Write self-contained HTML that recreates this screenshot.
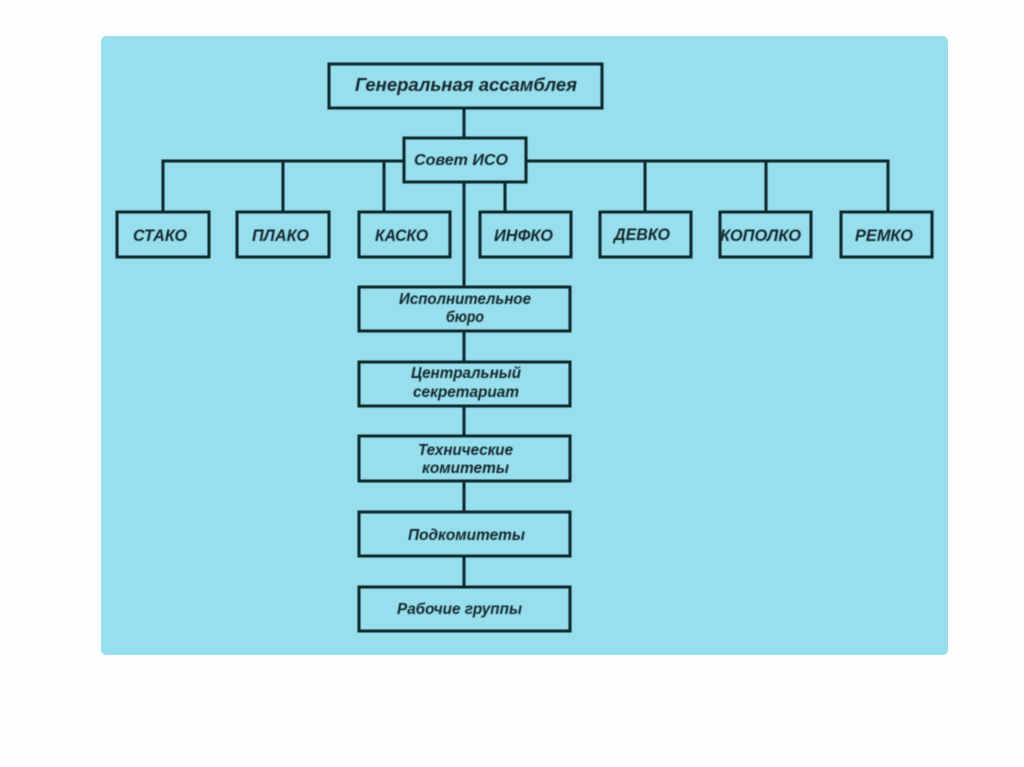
<!DOCTYPE html>
<html lang="ru">
<head>
<meta charset="utf-8">
<title>Структура ИСО</title>
<style>
html,body{margin:0;padding:0;background:#fefefe;width:1024px;height:767px;overflow:hidden}
svg{display:block}
text{font-family:"Liberation Sans",sans-serif;font-weight:bold;font-style:italic;font-size:16px;fill:#16282e;text-anchor:start}
</style>
</head>
<body>
<svg width="1024" height="767" viewBox="0 0 1024 767" xmlns="http://www.w3.org/2000/svg">
<defs>
<filter id="b" x="-5%" y="-5%" width="110%" height="110%"><feGaussianBlur stdDeviation="0.45"/></filter>
<filter id="t" x="-5%" y="-5%" width="110%" height="110%"><feGaussianBlur stdDeviation="0.4"/></filter>
</defs>
<rect x="101" y="36" width="847" height="619" rx="5" fill="#97dfec"/>
<g filter="url(#b)" fill="none" stroke="#10262c" stroke-width="3">
<path d="M464 108V138"/>
<path d="M404 161H163V212M283 161V212M384 161V212"/>
<path d="M526 161H888V212M645 161V212M766 161V212"/>
<path d="M505 182V212"/>
<path d="M464 182V287M464 331V362M464 406V436M464 481V512M464 556V587"/>
<rect x="329" y="64" width="273" height="44"/>
<rect x="404" y="138" width="122" height="44"/>
<rect x="117" y="212" width="92" height="45"/>
<rect x="237" y="212" width="92" height="45"/>
<rect x="359" y="212" width="91" height="45"/>
<rect x="480" y="212" width="91" height="45"/>
<rect x="600" y="212" width="91" height="45"/>
<rect x="720" y="212" width="91" height="45"/>
<rect x="841" y="212" width="91" height="45"/>
<rect x="359" y="287" width="211" height="44"/>
<rect x="359" y="362" width="211" height="44"/>
<rect x="359" y="436" width="211" height="45"/>
<rect x="359" y="512" width="211" height="44"/>
<rect x="359" y="587" width="211" height="44"/>
</g>
<g filter="url(#t)">
<text x="355" y="91" textLength="222" lengthAdjust="spacingAndGlyphs" style="font-size:18px">Генеральная ассамблея</text>
<text x="414" y="165" textLength="94" lengthAdjust="spacingAndGlyphs">Совет ИСО</text>
<text x="133" y="241" textLength="54" lengthAdjust="spacingAndGlyphs" style="font-size:17px">СТАКО</text>
<text x="252" y="241" textLength="57" lengthAdjust="spacingAndGlyphs" style="font-size:17px">ПЛАКО</text>
<text x="375" y="241" textLength="53" lengthAdjust="spacingAndGlyphs" style="font-size:17px">КАСКО</text>
<text x="494" y="241" textLength="59" lengthAdjust="spacingAndGlyphs" style="font-size:17px">ИНФКО</text>
<text x="614" y="240" textLength="56" lengthAdjust="spacingAndGlyphs" style="font-size:17px">ДЕВКО</text>
<text x="720" y="241" textLength="81" lengthAdjust="spacingAndGlyphs" style="font-size:17px">КОПОЛКО</text>
<text x="855" y="241" textLength="58" lengthAdjust="spacingAndGlyphs" style="font-size:17px">РЕМКО</text>
<text x="399" y="304" textLength="132" lengthAdjust="spacingAndGlyphs">Исполнительное</text>
<text x="446" y="322" textLength="38" lengthAdjust="spacingAndGlyphs">бюро</text>
<text x="411" y="378" textLength="110" lengthAdjust="spacingAndGlyphs">Центральный</text>
<text x="413" y="397" textLength="106" lengthAdjust="spacingAndGlyphs">секретариат</text>
<text x="418" y="455" textLength="95" lengthAdjust="spacingAndGlyphs">Технические</text>
<text x="422" y="473" textLength="87" lengthAdjust="spacingAndGlyphs">комитеты</text>
<text x="408" y="540" textLength="117" lengthAdjust="spacingAndGlyphs">Подкомитеты</text>
<text x="397" y="614" textLength="125" lengthAdjust="spacingAndGlyphs">Рабочие группы</text>
</g>
</svg>
</body>
</html>
